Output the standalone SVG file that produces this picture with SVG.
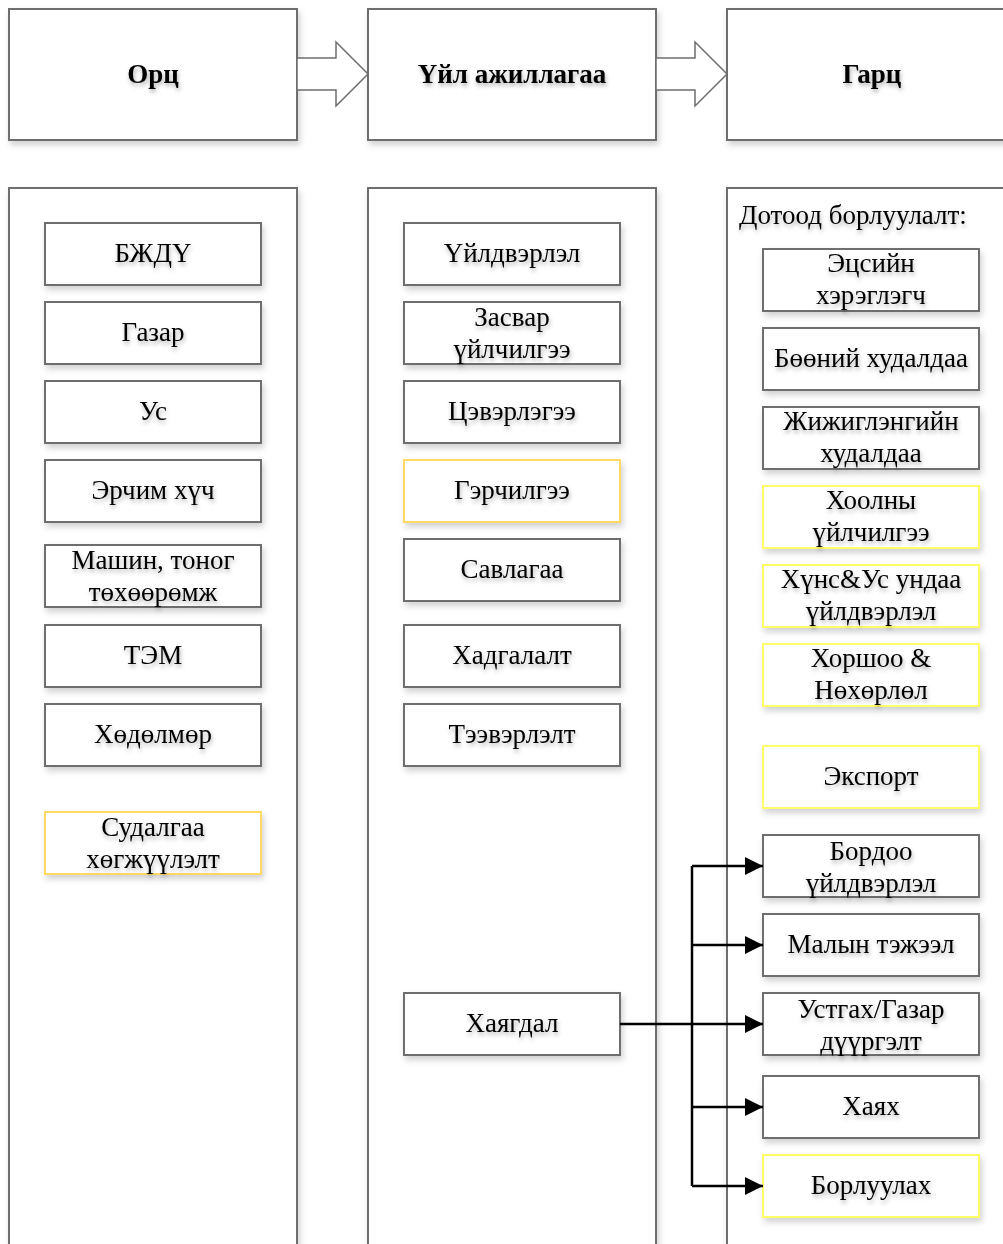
<svg xmlns="http://www.w3.org/2000/svg" width="1003" height="1244" viewBox="0 0 1003 1244">
<defs>
<filter id="sh" x="-10%" y="-10%" width="130%" height="140%">
<feDropShadow dx="2" dy="4" stdDeviation="3" flood-color="#000" flood-opacity="0.18"/>
</filter>
<filter id="tsh" x="-10%" y="-20%" width="130%" height="160%">
<feDropShadow dx="1" dy="3" stdDeviation="2" flood-color="#000" flood-opacity="0.3"/>
</filter>
<marker id="ah" markerWidth="20" markerHeight="18" refX="18" refY="9" orient="auto" markerUnits="userSpaceOnUse">
<path d="M0,0 L18,9 L0,18 Z" fill="#000"/>
</marker>
</defs>
<style>
.col{fill:#fff;stroke:#6e6e6e;stroke-width:2;}
.b{fill:#fff;stroke:#6e6e6e;stroke-width:2;}
.gold{fill:#fff;stroke:#ffd966;stroke-width:2;}
.yel{fill:#fff;stroke:#ffff66;stroke-width:2;}
text{font-family:"Liberation Serif","Times New Roman",serif;font-size:27px;fill:#000;text-anchor:middle;}
.h{font-weight:bold;}
.l{text-anchor:start;}
.conn{stroke:#000;stroke-width:2.5;fill:none;}
.ba{fill:#fff;stroke:#6e6e6e;stroke-width:1.5;}
</style>
<rect width="1003" height="1244" fill="#fff"/>

<!-- headers -->
<g id="hdr-input"><rect class="col" x="9" y="9" width="288" height="131" filter="url(#sh)"/><text class="h" x="153" y="83" filter="url(#tsh)">Орц</text></g>
<g id="hdr-process"><rect class="col" x="368" y="9" width="288" height="131" filter="url(#sh)"/><text class="h" x="512" y="83" filter="url(#tsh)">Үйл ажиллагаа</text></g>
<g id="hdr-output"><rect class="col" x="727" y="9" width="290" height="131" filter="url(#sh)"/><text class="h" x="872" y="83" filter="url(#tsh)">Гарц</text></g>

<!-- block arrows -->
<g id="blockarrow1"><path class="ba" d="M297,58 H336 V42 L368,74 L336,106 V90 H297 Z"/></g>
<g id="blockarrow2"><path class="ba" d="M656,58 H695 V42 L727,74 L695,106 V90 H656 Z"/></g>

<!-- columns -->
<g id="col-input"><rect class="col" x="9" y="188" width="288" height="1070" filter="url(#sh)"/></g>
<g id="col-process"><rect class="col" x="368" y="188" width="288" height="1070" filter="url(#sh)"/></g>
<g id="col-output"><rect class="col" x="727" y="188" width="290" height="1070" filter="url(#sh)"/>
<text class="l" x="739" y="224" filter="url(#tsh)">Дотоод борлуулалт:</text></g>

<!-- left column -->
<g id="n-bjdu"><rect class="b" x="45" y="223" width="216" height="62" filter="url(#sh)"/><text x="153" y="262" filter="url(#tsh)">БЖДҮ</text></g>
<g id="n-gazar"><rect class="b" x="45" y="302" width="216" height="62" filter="url(#sh)"/><text x="153" y="341" filter="url(#tsh)">Газар</text></g>
<g id="n-us"><rect class="b" x="45" y="381" width="216" height="62" filter="url(#sh)"/><text x="153" y="420" filter="url(#tsh)">Ус</text></g>
<g id="n-erchim"><rect class="b" x="45" y="460" width="216" height="62" filter="url(#sh)"/><text x="153" y="499" filter="url(#tsh)">Эрчим хүч</text></g>
<g id="n-mashin"><rect class="b" x="45" y="545" width="216" height="62" filter="url(#sh)"/><text x="153" y="569" filter="url(#tsh)">Машин, тоног</text><text x="153" y="601" filter="url(#tsh)">төхөөрөмж</text></g>
<g id="n-tem"><rect class="b" x="45" y="625" width="216" height="62" filter="url(#sh)"/><text x="153" y="664" filter="url(#tsh)">ТЭМ</text></g>
<g id="n-khodolmor"><rect class="b" x="45" y="704" width="216" height="62" filter="url(#sh)"/><text x="153" y="743" filter="url(#tsh)">Хөдөлмөр</text></g>
<g id="n-sudalgaa"><rect class="gold" x="45" y="812" width="216" height="62" filter="url(#sh)"/><text x="153" y="836" filter="url(#tsh)">Судалгаа</text><text x="153" y="868" filter="url(#tsh)">хөгжүүлэлт</text></g>

<!-- middle column -->
<g id="n-uildverlel"><rect class="b" x="404" y="223" width="216" height="62" filter="url(#sh)"/><text x="512" y="262" filter="url(#tsh)">Үйлдвэрлэл</text></g>
<g id="n-zasvar"><rect class="b" x="404" y="302" width="216" height="62" filter="url(#sh)"/><text x="512" y="326" filter="url(#tsh)">Засвар</text><text x="512" y="358" filter="url(#tsh)">үйлчилгээ</text></g>
<g id="n-tsevrlegee"><rect class="b" x="404" y="381" width="216" height="62" filter="url(#sh)"/><text x="512" y="420" filter="url(#tsh)">Цэвэрлэгээ</text></g>
<g id="n-gerchilgee"><rect class="gold" x="404" y="460" width="216" height="62" filter="url(#sh)"/><text x="512" y="499" filter="url(#tsh)">Гэрчилгээ</text></g>
<g id="n-savlagaa"><rect class="b" x="404" y="539" width="216" height="62" filter="url(#sh)"/><text x="512" y="578" filter="url(#tsh)">Савлагаа</text></g>
<g id="n-khadgalalt"><rect class="b" x="404" y="625" width="216" height="62" filter="url(#sh)"/><text x="512" y="664" filter="url(#tsh)">Хадгалалт</text></g>
<g id="n-teevrlelt"><rect class="b" x="404" y="704" width="216" height="62" filter="url(#sh)"/><text x="512" y="743" filter="url(#tsh)">Тээвэрлэлт</text></g>
<g id="n-khayagdal"><rect class="b" x="404" y="993" width="216" height="62" filter="url(#sh)"/><text x="512" y="1032" filter="url(#tsh)">Хаягдал</text></g>

<!-- right column -->
<g id="n-etsiin"><rect class="b" x="763" y="249" width="216" height="62" filter="url(#sh)"/><text x="871" y="272" filter="url(#tsh)">Эцсийн</text><text x="871" y="304" filter="url(#tsh)">хэрэглэгч</text></g>
<g id="n-boonii"><rect class="b" x="763" y="328" width="216" height="62" filter="url(#sh)"/><text x="871" y="367" filter="url(#tsh)">Бөөний худалдаа</text></g>
<g id="n-jijiglen"><rect class="b" x="763" y="407" width="216" height="62" filter="url(#sh)"/><text x="871" y="430" filter="url(#tsh)">Жижиглэнгийн</text><text x="871" y="462" filter="url(#tsh)">худалдаа</text></g>
<g id="n-hoolny"><rect class="yel" x="763" y="486" width="216" height="62" filter="url(#sh)"/><text x="871" y="509" filter="url(#tsh)">Хоолны</text><text x="871" y="541" filter="url(#tsh)">үйлчилгээ</text></g>
<g id="n-huns"><rect class="yel" x="763" y="565" width="216" height="62" filter="url(#sh)"/><text x="871" y="588" filter="url(#tsh)">Хүнс&amp;Ус ундаа</text><text x="871" y="620" filter="url(#tsh)">үйлдвэрлэл</text></g>
<g id="n-horshoo"><rect class="yel" x="763" y="644" width="216" height="62" filter="url(#sh)"/><text x="871" y="667" filter="url(#tsh)">Хоршоо &amp;</text><text x="871" y="699" filter="url(#tsh)">Нөхөрлөл</text></g>
<g id="n-export"><rect class="yel" x="763" y="746" width="216" height="62" filter="url(#sh)"/><text x="871" y="785" filter="url(#tsh)">Экспорт</text></g>
<g id="n-bordoo"><rect class="b" x="763" y="835" width="216" height="62" filter="url(#sh)"/><text x="871" y="860" filter="url(#tsh)">Бордоо</text><text x="871" y="892" filter="url(#tsh)">үйлдвэрлэл</text></g>
<g id="n-malyn"><rect class="b" x="763" y="914" width="216" height="62" filter="url(#sh)"/><text x="871" y="953" filter="url(#tsh)">Малын тэжээл</text></g>
<g id="n-ustgah"><rect class="b" x="763" y="993" width="216" height="62" filter="url(#sh)"/><text x="871" y="1018" filter="url(#tsh)">Устгах/Газар</text><text x="871" y="1050" filter="url(#tsh)">дүүргэлт</text></g>
<g id="n-khayah"><rect class="b" x="763" y="1076" width="216" height="62" filter="url(#sh)"/><text x="871" y="1115" filter="url(#tsh)">Хаях</text></g>
<g id="n-borluulah"><rect class="yel" x="763" y="1155" width="216" height="62" filter="url(#sh)"/><text x="871" y="1194" filter="url(#tsh)">Борлуулах</text></g>

<!-- connectors -->
<g id="connectors">
<path class="conn" d="M620,1024 H763" marker-end="url(#ah)"/>
<path class="conn" d="M692,866 V1186"/>
<path class="conn" d="M692,866 H763" marker-end="url(#ah)"/>
<path class="conn" d="M692,945 H763" marker-end="url(#ah)"/>
<path class="conn" d="M692,1107 H763" marker-end="url(#ah)"/>
<path class="conn" d="M692,1186 H763" marker-end="url(#ah)"/>
</g>
</svg>
